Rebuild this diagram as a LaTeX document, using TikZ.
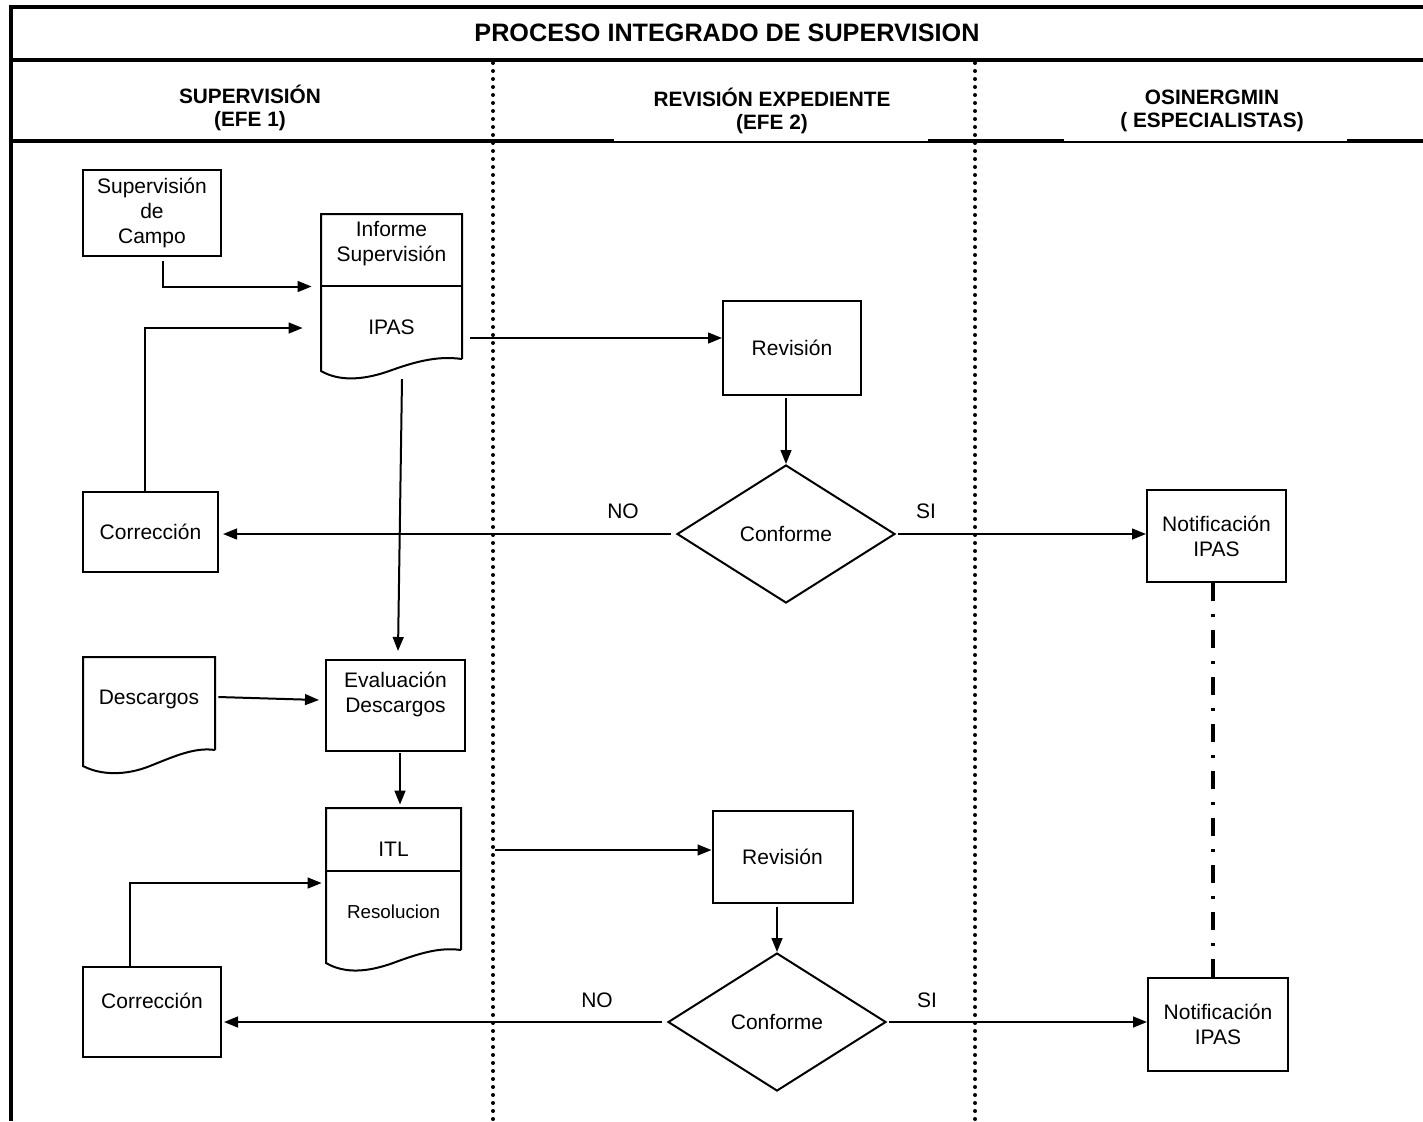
\documentclass[tikz,border=0pt]{standalone}
\usepackage{fontspec}
\setmainfont{Liberation Sans}
\usetikzlibrary{arrows.meta,shapes.geometric}
\begin{document}
\begin{tikzpicture}[x=0.5pt,y=-0.5pt,
  box/.style={draw,line width=1pt,inner sep=0pt},
  shp/.style={line width=1pt},
  txt/.style={font=\fontsize{10.5}{12.5}\selectfont,align=center,inner sep=0pt},
  hdr/.style={font=\bfseries\fontsize{10.4}{11.5}\selectfont,align=center,inner sep=0pt},
  conn/.style={line width=1pt,-{Triangle[length=7pt,width=5.4pt]}},
  lane/.style={line width=2pt,line cap=round,dash pattern=on 0pt off 4pt},
  frame/.style={line width=2pt},
  thin/.style={line width=0.75pt},
  dashdot/.style={line width=2.2pt,dash pattern=on 9pt off 6.5pt on 1.5pt off 6.5pt},
  dia/.style={draw,shape=diamond,line width=1pt,inner sep=0pt,minimum width=109pt,minimum height=69pt,aspect=1.58}
]
\useasboundingbox (0,0) rectangle (1423,1121);
\fill[white] (0,0) rectangle (1423,1121);

% frame
\draw[frame] (11,1121) -- (11,7) -- (1423,7);
\draw[frame] (9,60) -- (1423,60);
\draw[frame] (9,141) -- (614,141);
\draw[thin] (614,142) -- (928,142);
\draw[frame] (928,141) -- (1064,141);
\draw[thin] (1064,142) -- (1347,142);
\draw[frame] (1347,141) -- (1423,141);

% title and headers
\node[font=\bfseries\fontsize{12.6}{14}\selectfont,inner sep=0pt] (title) at (727,33) {PROCESO INTEGRADO DE SUPERVISION};
\node[hdr] (h1) at (250,108) {SUPERVISIÓN\\(EFE 1)};
\node[hdr] (h2) at (772,111) {REVISIÓN EXPEDIENTE\\(EFE 2)};
\node[hdr] (h3) at (1212,111) {OSINERGMIN\\( ESPECIALISTAS)};

% lanes
\coordinate (l1t) at (493,63); \coordinate (l1b) at (493,1121);
\coordinate (l2t) at (975,63); \coordinate (l2b) at (975,1121);
\draw[lane] (l1t) -- (l1b);
\draw[lane] (l2t) -- (l2b);

% nodes
\node[box,txt,minimum width=69pt,minimum height=43pt] (supc) at (152,213) {Supervisión\\de\\Campo};

\node[minimum width=70.5pt,minimum height=72.5pt,inner sep=0pt] (doc1) at (391.5,286.5) {};
\draw[shp] (462,359) -- (462,214) -- (321,214) -- (321,371)
  .. controls (340,382) and (365,380) .. (392,370)
  .. controls (420,360) and (440,356) .. (462,359);
\draw[shp] (321,286) -- (462,286);
\node[txt] (doc1a) at (391.5,243.5) {Informe\\Supervisión};
\node[txt] (doc1b) at (391.5,327) {IPAS};

\node[box,txt,minimum width=69pt,minimum height=47pt] (rev1) at (792,348) {Revisión};
\node[dia,txt] (dia1) at (786,534) {Conforme};
\node[box,txt,minimum width=67.5pt,minimum height=40pt] (cor1) at (150.5,532) {Corrección};
\node[box,txt,minimum width=69.5pt,minimum height=46pt] (not1) at (1216.5,536) {Notificación\\IPAS};

\node[minimum width=66pt,minimum height=46.5pt,inner sep=0pt] (desc) at (149,703.5) {};
\draw[shp] (215,750) -- (215,657) -- (83,657) -- (83,766)
  .. controls (100,775) and (125,776) .. (150,766)
  .. controls (175,756) and (195,747) .. (215,750);
\node[txt] (desct) at (149,699) {Descargos};

\node[box,minimum width=69.5pt,minimum height=45.5pt] (eval) at (395.5,705.5) {};
\node[txt] (evalt) at (395.5,694.5) {Evaluación\\Descargos};

\node[minimum width=67.5pt,minimum height=71pt,inner sep=0pt] (doc2) at (393.5,879) {};
\draw[shp] (461,950) -- (461,808) -- (326,808) -- (326,963)
  .. controls (345,974) and (368,972) .. (393,963)
  .. controls (420,953) and (440,947) .. (461,950);
\draw[shp] (326,871) -- (461,871);
\node[txt] (doc2a) at (393.5,849) {ITL};
\node[txt,font=\fontsize{9.4}{11}\selectfont] (doc2b) at (393.5,912) {Resolucion};

\node[box,txt,minimum width=70pt,minimum height=46pt] (rev2) at (782.5,856.5) {Revisión};
\node[dia,txt] (dia2) at (777,1022) {Conforme};
\node[box,minimum width=69pt,minimum height=45pt] (cor2) at (152,1012) {};
\node[txt] (cor2t) at (152,1001) {Corrección};
\node[box,txt,minimum width=70pt,minimum height=46.5pt] (not2) at (1218,1024.5) {Notificación\\IPAS};

% labels
\node[txt] (no1) at (623,511) {NO};
\node[txt] (si1) at (926,511) {SI};
\node[txt] (no2) at (597,1000) {NO};
\node[txt] (si2) at (927,1000) {SI};

% connectors
\draw[conn] ([xshift=5.5pt,yshift=-2pt]supc.south) |- ([xshift=-4.5pt]doc1.west);
\draw[conn] ([xshift=-2.75pt]cor1.north) |- ([xshift=-9pt,yshift=-20.75pt]doc1.west);
\coordinate (d1out) at (470,338);
\draw[conn] (d1out) -- (d1out -| rev1.west);
\draw[conn,shorten <=1pt] (rev1.south -| dia1.north) -- (dia1.north);
\draw[conn,shorten <=2.5pt,shorten >=2pt] (dia1.west) -- (cor1.east |- dia1.west);
\draw[conn,shorten <=1pt] (dia1.east) -- (not1.west |- dia1.east);
\coordinate (d1bot) at (402,379);
\draw[conn] (d1bot) -- ([xshift=1.25pt,yshift=4pt]eval.north);
\draw[conn] ([xshift=1.5pt,yshift=3.25pt]desc.east) -- ([xshift=-3pt,yshift=2.75pt]eval.west);
\draw[conn,shorten <=0.5pt,shorten >=1.5pt] ([xshift=2.25pt]eval.south) -- ([xshift=2.25pt]eval.south |- doc2.north);
\coordinate (d2out) at (495,850);
\draw[conn] (d2out) -- (d2out -| rev2.west);
\draw[conn,shorten <=1.5pt] (rev2.south -| dia2.north) -- (dia2.north);
\draw[conn,shorten <=2.5pt,shorten >=1pt] (dia2.west) -- (cor2.east |- dia2.west);
\draw[conn,shorten <=1pt] (dia2.east) -- (not2.west |- dia2.east);
\draw[conn] ([xshift=-11pt]cor2.north) |- ([xshift=-2pt,yshift=-2pt]doc2.west);
\draw[dashdot] ([xshift=-1.75pt]not1.south) -- ([xshift=-1.75pt]not1.south |- not2.north);
\end{tikzpicture}
\end{document}
